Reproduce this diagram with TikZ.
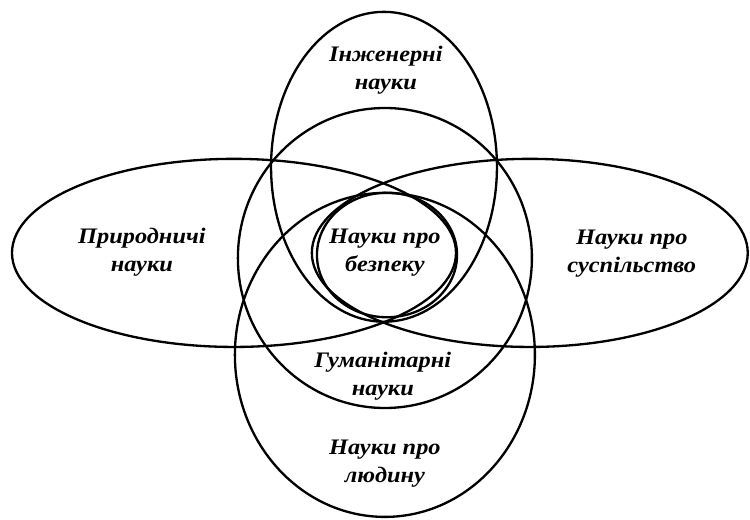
\documentclass[tikz,border=0pt]{standalone}
\usepackage{fontspec}
\setmainfont{Liberation Serif}
\newfontfamily\areafont[FakeStretch=1.1]{Liberation Serif}
\usepackage{tikz}
\usetikzlibrary{positioning, shapes.geometric}
\tikzset{%
	thick/.style = {line width = 2.2pt},
	zone/.style = {name = #1, ellipse, draw, thick, inner sep = 0pt},
	txt/.style = {name = #1, align = center, inner sep = 0pt, font = \areafont\fontsize{21}{26.5}\selectfont\bfseries\itshape}
}
\begin{document}
\begin{tikzpicture}
			\useasboundingbox (-12.83,-8.9) rectangle (12.17,8.43);
			\node [zone = nat, minimum width = 14.8cm, minimum height = 6.27cm] at (-5.03,0) {};
			\node [zone = soc, minimum width = 14.53cm, minimum height = 6.27cm] at (4.83,0) {};
			\node [zone = eng, minimum width = 7.53cm, minimum height = 10.33cm] at (-0.03,2.87) {};
			\node [zone = man, minimum width = 10cm, minimum height = 10.8cm] at (0,-3.4) {};
			\node [zone = hum, minimum width = 9.8cm, minimum height = 10cm] at (0,-0.17) {};
			\node [zone = saf, minimum width = 4.67cm, minimum height = 4.15cm] at (0.07,-0.07) {};
			\node [txt = engT] at (0.03,6.1) {Інженерні\\науки};
			\node [txt = natT] at (-8.1,0.03) {Природничі\\науки};
			\node [txt = socT] at (8.23,-0.03) {Науки про\\суспільство};
			\node [txt = safT] at (0,0) {Науки про\\безпеку};
			\node [txt = humT] at (-0.07,-4.1) {Гуманітарні\\науки};
			\node [txt = manT] at (0,-7.03) {Науки про\\людину};
\end{tikzpicture}
\end{document}
